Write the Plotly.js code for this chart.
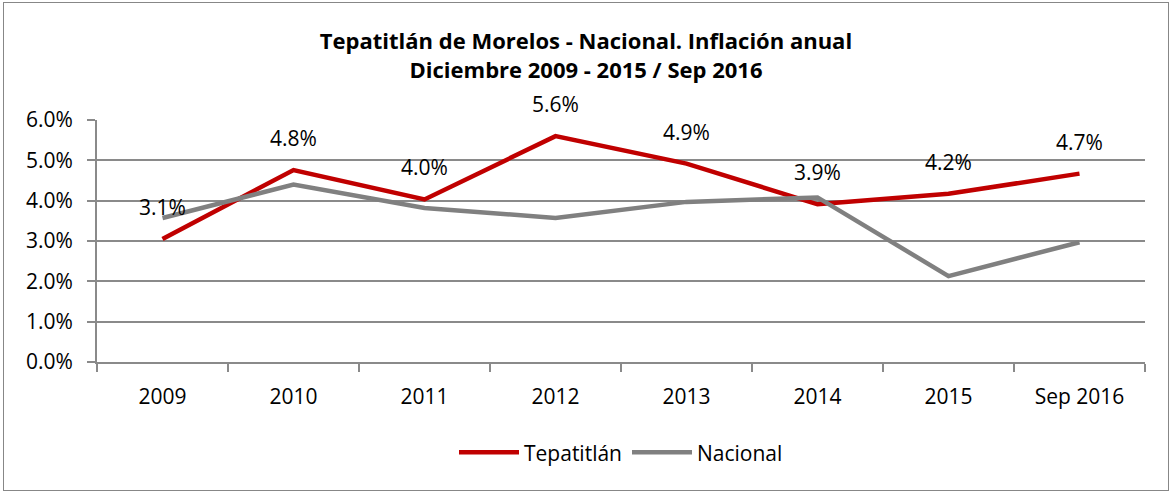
<!DOCTYPE html>
<html>
<head>
<meta charset="utf-8">
<script src="https://cdn.plot.ly/plotly-3.0.1.min.js"></script>
<style>
html,body{margin:0;padding:0;background:#fff;}
#frame{position:absolute;left:3px;top:2px;width:1164px;height:487px;border:1px solid #878787;}
#chart{width:1164px;height:487px;}
</style>
</head>
<body>
<div id="frame"><div id="chart"></div></div>
<script>
const categories = ["2009","2010","2011","2012","2013","2014","2015","Sep 2016"];
const tepatitlan = [3.05, 4.76, 4.03, 5.60, 4.92, 3.91, 4.17, 4.67];
const nacional   = [3.57, 4.40, 3.82, 3.57, 3.97, 4.08, 2.13, 2.97];
const tepatitlanLabels = ["3.1%","4.8%","4.0%","5.6%","4.9%","3.9%","4.2%","4.7%"];
const yTicks = [0,1,2,3,4,5,6];
const yTickLabels = ["0.0%","1.0%","2.0%","3.0%","4.0%","5.0%","6.0%"];

const FONT = "'Open Sans', Lato, sans-serif";

const traces = [
  {x: categories, y: tepatitlan, type: "scatter", mode: "lines", name: "Tepatitlán",
   line: {color: "#C00000", width: 4.5}, hoverinfo: "skip"},
  {x: categories, y: nacional, type: "scatter", mode: "lines", name: "Nacional",
   line: {color: "#808080", width: 4.5}, hoverinfo: "skip"}
];

const annotations = categories.map((c, i) => ({
  x: i, y: tepatitlan[i], xref: "x", yref: "y", text: tepatitlanLabels[i],
  showarrow: false, yshift: 32, font: {family: FONT, size: 21, color: "#000"}
}));

const layout = {
  width: 1164, height: 487,
  margin: {l: 93, r: 23, t: 117, b: 128},
  paper_bgcolor: "#fff", plot_bgcolor: "#fff",
  font: {family: FONT, size: 21, color: "#000"},
  title: {text: "<b>Tepatitlán de Morelos - Nacional. Inflación anual<br>Diciembre 2009 - 2015 / Sep 2016</b>",
          x: 0.5, xanchor: "center", yref: "container", y: 0.905, yanchor: "top",
          font: {family: FONT, size: 22, color: "#000"}},
  xaxis: {type: "category", categoryorder: "array", categoryarray: categories, range: [-0.5, 7.5],
          tickson: "boundaries", ticks: "outside", ticklen: 8, tickangle: 0, ticklabelstandoff: 15,
          tickcolor: "#8a8a8a", tickwidth: 2, showline: true, linecolor: "#8a8a8a", linewidth: 2,
          showgrid: false, tickfont: {family: FONT, size: 21}, fixedrange: true},
  yaxis: {range: [0, 6], tickvals: yTicks, ticktext: yTickLabels, ticks: "outside", ticklen: 8,
          ticklabelstandoff: 10,
          tickcolor: "#8a8a8a", tickwidth: 2, showline: true, linecolor: "#8a8a8a", linewidth: 2,
          showgrid: true, gridcolor: "#8a8a8a", gridwidth: 2, zeroline: false,
          tickfont: {family: FONT, size: 21}, fixedrange: true},
  legend: {orientation: "h", x: 0.5, xanchor: "center", y: -0.29, yanchor: "top",
           font: {family: FONT, size: 21}, itemwidth: 60},
  annotations: annotations,
  showlegend: true
};

Plotly.newPlot("chart", traces, layout, {displayModeBar: false, staticPlot: true});
</script>
</body>
</html>
